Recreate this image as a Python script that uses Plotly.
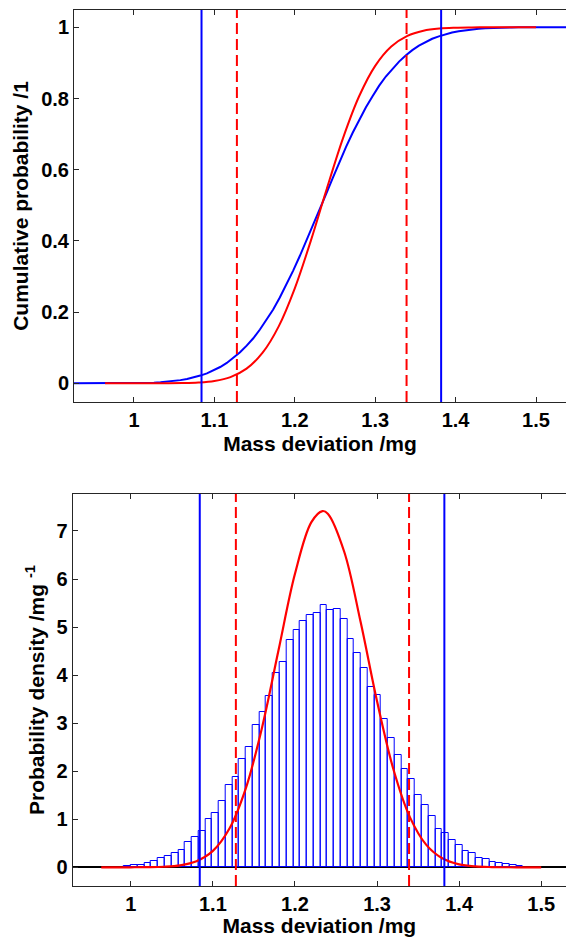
import numpy as np
import plotly.graph_objects as go

# ---------------- data ----------------
# Histogram of Monte Carlo samples (probability density per bin)
hist_first_center = 0.99596
hist_bin_width = 0.00824
hist_density = [0.03, 0.05, 0.05, 0.08, 0.14, 0.19, 0.24, 0.30, 0.37, 0.52,
                0.64, 0.76, 1.00, 1.14, 1.37, 1.71, 1.89, 2.25, 2.50, 2.96,
                3.23, 3.56, 4.04, 4.28, 4.73, 4.93, 5.13, 5.26, 5.29, 5.45,
                5.35, 5.37, 5.16, 4.75, 4.47, 4.15, 3.75, 3.58, 3.08, 2.70,
                2.34, 2.05, 1.83, 1.50, 1.29, 1.07, 0.80, 0.71, 0.57, 0.46,
                0.34, 0.29, 0.20, 0.17, 0.12, 0.08, 0.06, 0.04, 0.03]

# Normal (GUM) curve
normal_x = [0.964, 0.98, 1.00, 1.02, 1.04, 1.06, 1.08, 1.10, 1.12, 1.14,
            1.16, 1.18, 1.20, 1.22, 1.2335, 1.24, 1.26, 1.28, 1.30, 1.32,
            1.34, 1.36, 1.38, 1.40, 1.42, 1.44, 1.46, 1.48, 1.50]
normal_pdf = [0.0000, 0.0001, 0.0006, 0.0028, 0.0115, 0.041, 0.127, 0.341, 0.801, 1.638,
              2.917, 4.522, 6.109, 7.185, 7.415, 7.361, 6.568, 5.104, 3.455, 2.036,
              1.045, 0.467, 0.182, 0.0617, 0.0182, 0.0047, 0.0011, 0.0002, 0.0000]
normal_cdf = [0.0000, 0.0000, 0.0000, 0.00004, 0.00016, 0.00063, 0.00217, 0.00655, 0.01743, 0.0411,
              0.0860, 0.1600, 0.2668, 0.4009, 0.5000, 0.5481, 0.6889, 0.8063, 0.8918, 0.9461,
              0.9761, 0.9906, 0.99677, 0.99902, 0.99974, 0.99994, 0.99999, 1.0000, 1.0000]

# Coverage interval limits
mc_limits = [1.084, 1.382]       # Monte Carlo 95 % interval (blue solid)
gum_limits = [1.128, 1.339]      # GUM 95 % interval (red dashed)

x_ticks = [1.0, 1.1, 1.2, 1.3, 1.4, 1.5]

# ---------------- derived ----------------
n_bins = len(hist_density)
centers = hist_first_center + hist_bin_width * np.arange(n_bins)
edges = np.concatenate([[centers[0] - hist_bin_width / 2], centers + hist_bin_width / 2])
cum = np.concatenate([[0.0], np.cumsum(np.array(hist_density) * hist_bin_width)])
cum = cum / cum[-1]
mc_cdf_x = np.concatenate([[0.90], edges, [1.56]])
mc_cdf_y = np.concatenate([[0.0], cum, [1.0]])

BLUE = "rgb(0,0,255)"
RED = "rgb(255,0,0)"
AX = "#262626"
FONT = dict(family="Liberation Sans, Arial, sans-serif", size=21, color="black", weight="bold")
TICKFONT = dict(family="Liberation Sans, Arial, sans-serif", size=20, color="black", weight="bold")

fig = go.Figure()

# Top: cumulative distributions
fig.add_trace(go.Scatter(x=mc_cdf_x, y=mc_cdf_y, mode="lines", line=dict(color=BLUE, width=2),
                         xaxis="x", yaxis="y", showlegend=False, hoverinfo="skip"))
fig.add_trace(go.Scatter(x=normal_x, y=normal_cdf, mode="lines", line=dict(color=RED, width=2, shape="spline"),
                         xaxis="x", yaxis="y", showlegend=False, hoverinfo="skip"))

# Bottom: histogram + normal pdf
fig.add_trace(go.Bar(x=centers, y=hist_density, width=hist_bin_width,
                     marker=dict(color="rgba(255,255,255,0)", line=dict(color=BLUE, width=1)),
                     xaxis="x2", yaxis="y2", showlegend=False, hoverinfo="skip"))
fig.add_trace(go.Scatter(x=normal_x, y=normal_pdf, mode="lines", line=dict(color=RED, width=2.2, shape="spline"),
                         xaxis="x2", yaxis="y2", showlegend=False, hoverinfo="skip"))

for xr, yr in (("x", "y"), ("x2", "y2")):
    for v in mc_limits:
        fig.add_shape(type="line", xref=xr, yref=yr + " domain", x0=v, x1=v, y0=0, y1=1,
                      line=dict(color=BLUE, width=2))
    for v in gum_limits:
        fig.add_shape(type="line", xref=xr, yref=yr + " domain", x0=v, x1=v, y0=0, y1=1,
                      line=dict(color=RED, width=2, dash="11px,5px"))

common_x = dict(showgrid=False, zeroline=False, showline=True, linecolor=AX, linewidth=1,
                mirror="ticks", ticks="inside", ticklen=5, tickcolor=AX, tickwidth=1,
                tickvals=x_ticks, tickfont=TICKFONT,
                title=dict(text="Mass deviation /mg", font=FONT, standoff=6))
common_y = dict(showgrid=False, showline=True, linecolor=AX, linewidth=1, mirror=False,
                ticks="inside", ticklen=5, tickcolor=AX, tickwidth=1, tickfont=TICKFONT)

fig.update_layout(
    width=566, height=937,
    margin=dict(l=0, r=0, t=0, b=0),
    paper_bgcolor="white", plot_bgcolor="white",
    barmode="overlay", bargap=0,
    xaxis=dict(domain=[74 / 566, 1], range=[0.9254, 1.5373], anchor="y", **common_x),
    yaxis=dict(domain=[1 - 402 / 937, 1 - 10 / 937], range=[-0.0525, 1.0486], anchor="x",
               zeroline=False, dtick=0.2, tick0=0,
               title=dict(text="Cumulative probability /1", font=FONT, standoff=6), **common_y),
    xaxis2=dict(domain=[72.7 / 566, 1], range=[0.9292, 1.5302], anchor="y2", **common_x),
    yaxis2=dict(domain=[1 - 886 / 937, 1 - 494 / 937], range=[-0.389, 7.77], anchor="x2",
                zeroline=True, zerolinecolor="black", zerolinewidth=2, dtick=1, tick0=0,
                title=dict(text="Probability density /mg <sup>-1</sup>", font=FONT, standoff=6), **common_y),
)

fig.write_html("out.html")
